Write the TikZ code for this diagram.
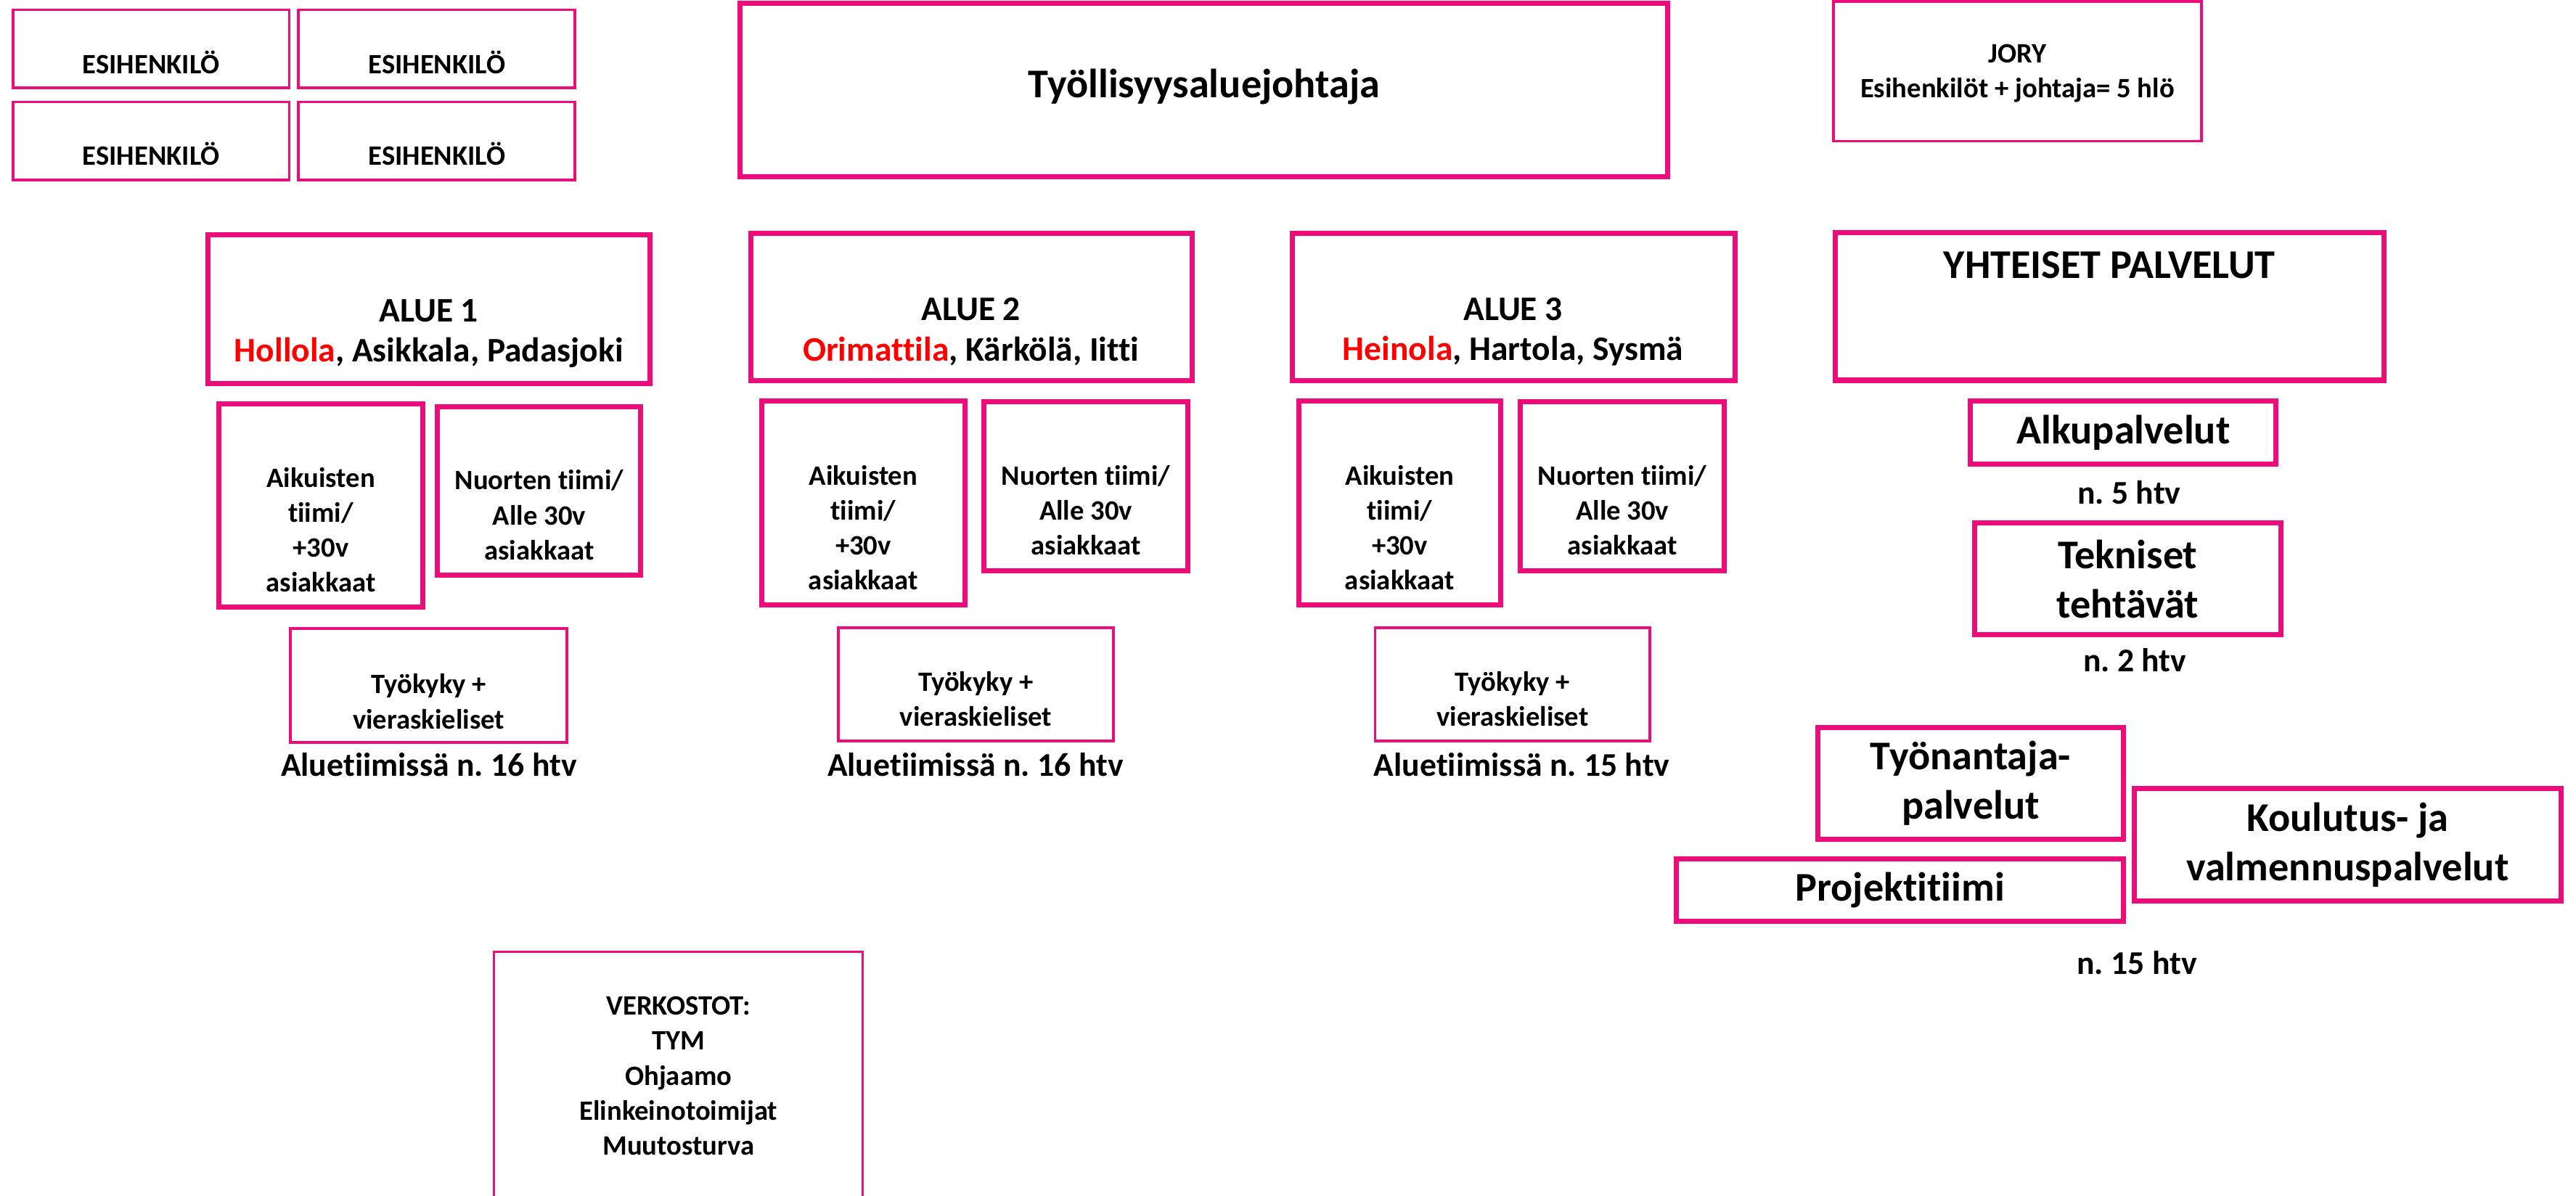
\documentclass[tikz,border=0pt]{standalone}
\usepackage{fontspec}
\setmainfont{Carlito}[Ligatures=CommonOff]
\frenchspacing
\usetikzlibrary{fit}
\definecolor{pinkki}{RGB}{236,12,122}
\definecolor{punainen}{RGB}{255,0,0}

\begin{document}
\begin{tikzpicture}[x=0.02263cm,y=-0.02263cm,
  kehys/.style={draw=pinkki,inner sep=0pt},
  paksu/.style={kehys,line width=2pt},
  ohut/.style={kehys,line width=1pt},
  pieni/.style={inner sep=0pt,align=center,font=\bfseries\fontsize{11}{13.7}\selectfont},
  iso/.style={inner sep=0pt,align=center,font=\bfseries\fontsize{16}{19.3}\selectfont},
  alue/.style={inner sep=0pt,align=center,font=\bfseries\fontsize{13.5}{15.7}\selectfont},
  htv/.style={inner sep=0pt,font=\bfseries\fontsize{13}{15.7}\selectfont}]
  \path[use as bounding box,fill=white] (0,0) rectangle (1568,727.7);

  % esihenkilot
  \node[ohut,fit={(8,6) (176,53.5)}] (esi1) {};
  \node[ohut,fit={(181.5,6) (350,53.5)}] (esi2) {};
  \node[ohut,fit={(8,62) (176,109.5)}] (esi3) {};
  \node[ohut,fit={(181.5,62) (350,109.5)}] (esi4) {};
  \node[pieni] (esi1t) at (92,38) {ESIHENKILÖ};
  \node[pieni] (esi2t) at (266,38) {ESIHENKILÖ};
  \node[pieni] (esi3t) at (92,93.5) {ESIHENKILÖ};
  \node[pieni] (esi4t) at (266,93.5) {ESIHENKILÖ};

  \node[paksu,fit={(450.5,2) (1015,107.5)}] (johtaja) {};
  \node[iso] (johtajat) at (733,53) {Työllisyysaluejohtaja};
  \node[ohut,fit={(1116,0.8) (1340,86)}] (jory) {};
  \node[pieni] (joryt) at (1228,44.5) {JORY\\Esihenkilöt + johtaja= 5 hlö};

  % alue 1
  \node[paksu,fit={(126.5,143) (395.5,233.5)}] (alue1) {};
  \node[alue] (alue1t) at (261,203) {ALUE 1\\{\color{punainen}Hollola}, Asikkala, Padasjoki};
  \node[paksu,fit={(133.3,246) (257.4,369.5)}] (aik1) {};
  \node[pieni] (aik1t) at (195.3,322.5) {Aikuisten\\tiimi/\\+30v\\asiakkaat};
  \node[paksu,fit={(266.4,247.5) (390,350)}] (nuo1) {};
  \node[pieni] (nuo1t) at (328.2,313.5) {Nuorten tiimi/\\Alle 30v\\asiakkaat};
  \node[ohut,fit={(176.7,382.7) (345,452)}] (tyk1) {};
  \node[pieni] (tyk1t) at (261,427) {Työkyky +\\vieraskieliset};
  \node[htv] (htv1) at (261,465.5) {Aluetiimissä n. 16 htv};

  % alue 2
  \node[paksu,fit={(457,142) (725.5,231.8)}] (alue2) {};
  \node[alue] (alue2t) at (591,202) {ALUE 2\\{\color{punainen}Orimattila}, Kärkölä, Iitti};
  \node[paksu,fit={(463.5,244.3) (587.5,368.3)}] (aik2) {};
  \node[pieni] (aik2t) at (525.5,321.2) {Aikuisten\\tiimi/\\+30v\\asiakkaat};
  \node[paksu,fit={(599,244.5) (723,347.4)}] (nuo2) {};
  \node[pieni] (nuo2t) at (661,310.7) {Nuorten tiimi/\\Alle 30v\\asiakkaat};
  \node[ohut,fit={(510.4,382.2) (677.8,451)}] (tyk2) {};
  \node[pieni] (tyk2t) at (594,425.4) {Työkyky +\\vieraskieliset};
  \node[htv] (htv2) at (593.7,465.5) {Aluetiimissä n. 16 htv};

  % alue 3
  \node[paksu,fit={(786.5,142) (1056,231.8)}] (alue3) {};
  \node[alue] (alue3t) at (921,202) {ALUE 3\\{\color{punainen}Heinola}, Hartola, Sysmä};
  \node[paksu,fit={(790.5,244.3) (913.5,368.3)}] (aik3) {};
  \node[pieni] (aik3t) at (852,321.2) {Aikuisten\\tiimi/\\+30v\\asiakkaat};
  \node[paksu,fit={(925.5,244.5) (1049.5,347.4)}] (nuo3) {};
  \node[pieni] (nuo3t) at (987.5,310.7) {Nuorten tiimi/\\Alle 30v\\asiakkaat};
  \node[ohut,fit={(837,382.2) (1004.3,451)}] (tyk3) {};
  \node[pieni] (tyk3t) at (920.7,425.4) {Työkyky +\\vieraskieliset};
  \node[htv] (htv3) at (926.3,465.5) {Aluetiimissä n. 15 htv};

  % yhteiset palvelut
  \node[paksu,fit={(1117,141.5) (1451,231.5)}] (yht) {};
  \node[iso] (yhtt) at (1284,161.5) {YHTEISET PALVELUT};
  \node[paksu,fit={(1199.5,244) (1385.5,282.5)}] (alku) {};
  \node[iso] (alkut) at (alku) {Alkupalvelut};
  \node[htv] (alkuhtv) at (1296,299.6) {n. 5 htv};
  \node[paksu,fit={(1202,318.4) (1388.2,386.5)}] (tekn) {};
  \node[iso] (teknt) at (tekn) {Tekniset\\tehtävät};
  \node[htv] (teknhtv) at (1299.4,402) {n. 2 htv};
  \node[paksu,fit={(1106.5,442.8) (1292.5,511)}] (tyonant) {};
  \node[iso] (tyonantt) at (tyonant) {Työnantaja-\\palvelut};
  \node[paksu,fit={(1299,480) (1559,548.5)}] (koul) {};
  \node[iso] (koult) at (koul) {Koulutus- ja\\valmennuspalvelut};
  \node[paksu,fit={(1020.5,522.8) (1292.5,560.8)}] (proj) {};
  \node[iso] (projt) at (proj) {Projektitiimi};
  \node[htv] (projhtv) at (1300.7,586) {n. 15 htv};

  \node[ohut,fit={(300.7,579.5) (525,731)}] (verk) {};
  \node[pieni] (verkt) at (413,655) {VERKOSTOT:\\TYM\\Ohjaamo\\Elinkeinotoimijat\\Muutosturva};
\end{tikzpicture}
\end{document}
